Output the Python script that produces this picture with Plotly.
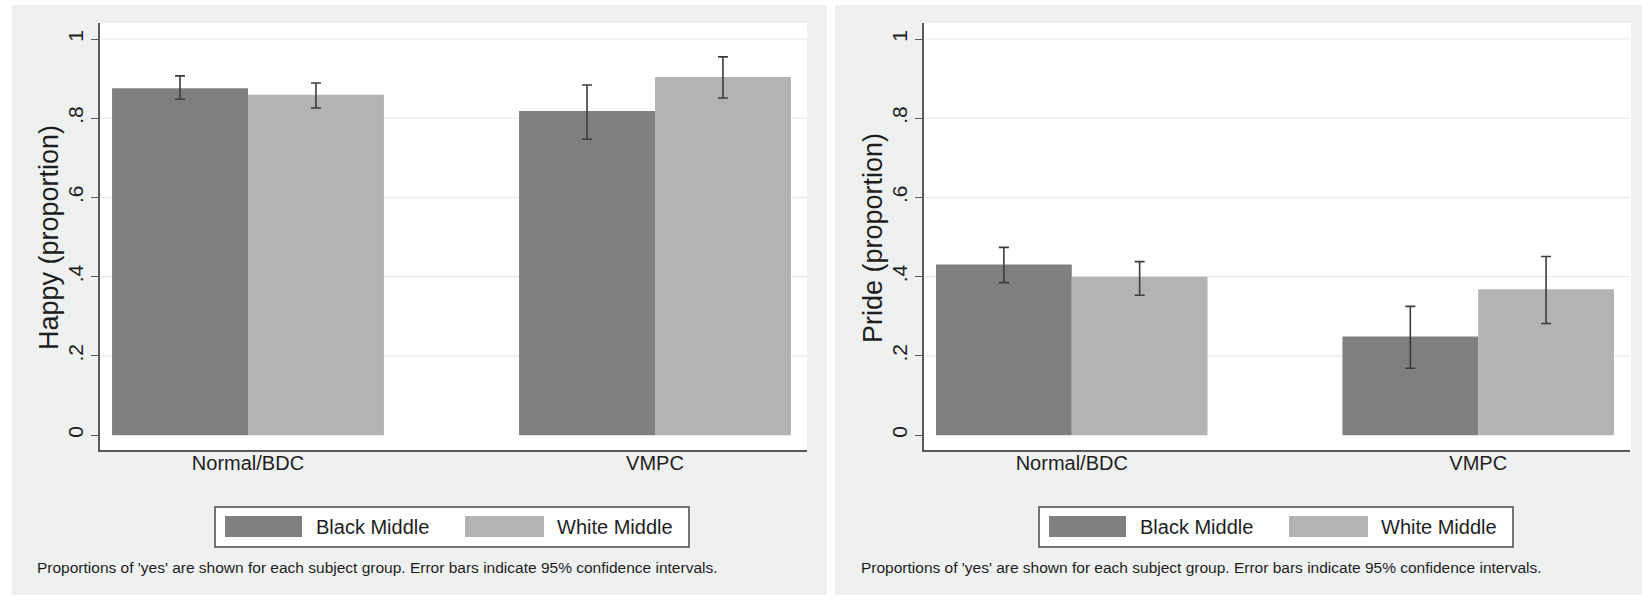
import plotly.graph_objects as go

W, H = 1642, 597

# ---- data -------------------------------------------------------------
groups = ["Normal/BDC", "VMPC"]
series = ["Black Middle", "White Middle"]
bar_colors = ["#7f7f7f", "#b3b3b3"]

happy_black = [0.876, 0.818]
happy_black_lo = [0.848, 0.747]
happy_black_hi = [0.907, 0.884]
happy_white = [0.859, 0.904]
happy_white_lo = [0.826, 0.851]
happy_white_hi = [0.889, 0.955]

pride_black = [0.431, 0.249]
pride_black_lo = [0.385, 0.169]
pride_black_hi = [0.474, 0.325]
pride_white = [0.400, 0.368]
pride_white_lo = [0.353, 0.282]
pride_white_hi = [0.438, 0.451]

y_ticks = [0, 0.2, 0.4, 0.6, 0.8, 1]
y_tick_labels = ["0", ".2", ".4", ".6", ".8", "1"]

note = ("Proportions of 'yes' are shown for each subject group. "
        "Error bars indicate 95% confidence intervals.")

FONT = "Liberation Sans, Arial, Helvetica, sans-serif"
TEXT = "#1e1e1e"
PANEL_BG = "#eff0f0"
AXIS = "#5a5a5a"


def px(x):
    return x / W


def py(y):
    return 1 - y / H


panels = [
    dict(title="Happy (proportion)", off=0, xa="x", ya="y",
         vals=[(happy_black, happy_black_lo, happy_black_hi),
               (happy_white, happy_white_lo, happy_white_hi)]),
    dict(title="Pride (proportion)", off=824, xa="x2", ya="y2",
         vals=[(pride_black, pride_black_lo, pride_black_hi),
               (pride_white, pride_white_lo, pride_white_hi)]),
]

fig = go.Figure()
shapes = []
annotations = []

for i, p in enumerate(panels):
    for s, (v, lo, hi) in enumerate(p["vals"]):
        fig.add_trace(go.Bar(
            x=groups, y=v, name=series[s],
            marker=dict(color=bar_colors[s], line=dict(width=0)),
            error_y=dict(type="data", symmetric=False,
                         array=[h - m for h, m in zip(hi, v)],
                         arrayminus=[m - l for m, l in zip(v, lo)],
                         color="#3c3c3c", thickness=1.6, width=5),
            xaxis=p["xa"], yaxis=p["ya"], showlegend=False,
            offsetgroup=str(s),
        ))

    o = p["off"]
    # grey panel and white plot region
    panel_x0 = 12 if i == 0 else 835
    panel_x1 = 827 if i == 0 else 1642
    shapes.append(dict(type="rect", xref="paper", yref="paper",
                       x0=px(panel_x0), x1=px(panel_x1), y0=py(595), y1=py(5),
                       fillcolor=PANEL_BG, line=dict(width=0), layer="below"))
    shapes.append(dict(type="rect", xref="paper", yref="paper",
                       x0=px(100 + o), x1=px(807 + o), y0=py(450), y1=py(23),
                       fillcolor="white", line=dict(width=0), layer="below"))
    # horizontal grid lines
    xd = "x domain" if i == 0 else "x2 domain"
    for t in y_ticks[1:]:
        shapes.append(dict(type="line", xref=xd, yref=p["ya"], x0=0, x1=1,
                           y0=t, y1=t, line=dict(color="#e9eaea", width=1.2),
                           layer="below"))

    # legend box
    shapes.append(dict(type="rect", xref="paper", yref="paper",
                       x0=px(215 + o), x1=px(689 + o), y0=py(547), y1=py(507),
                       fillcolor="white", line=dict(color="#4a4a4a", width=1.5)))
    for s, (sx0, sx1, tx) in enumerate([(225, 302, 314), (465, 544, 555)]):
        shapes.append(dict(type="rect", xref="paper", yref="paper",
                           x0=px(sx0 + o), x1=px(sx1 + o), y0=py(537), y1=py(516),
                           fillcolor=bar_colors[s], line=dict(width=0)))
        annotations.append(dict(text=series[s], xref="paper", yref="paper",
                                x=px(tx + o), y=py(527), xanchor="left",
                                yanchor="middle", showarrow=False,
                                font=dict(size=20, color=TEXT, family=FONT)))

    # y-axis title
    annotations.append(dict(text=p["title"], xref="paper", yref="paper",
                            x=px(49 + o), y=py(238), textangle=-90,
                            xanchor="center", yanchor="middle", showarrow=False,
                            font=dict(size=27, color=TEXT, family=FONT)))
    # footnote
    annotations.append(dict(text=note, xref="paper", yref="paper",
                            x=px(35 + o), y=py(567), xanchor="left",
                            yanchor="middle", showarrow=False,
                            font=dict(size=15.5, color=TEXT, family=FONT)))

xaxis_common = dict(
    type="category", range=[-0.3636, 1.3735], showline=True,
    linecolor=AXIS, linewidth=1.5, ticks="", showgrid=False, zeroline=False,
    ticklabelstandoff=-6,
    tickfont=dict(size=20, color=TEXT, family=FONT), fixedrange=True,
)
yaxis_common = dict(
    range=[-0.0375, 1.0404], tickvals=y_ticks, ticktext=y_tick_labels,
    tickangle=-90, ticks="outside", ticklen=7, tickwidth=1.2, tickcolor=AXIS,
    showline=True, linecolor=AXIS, linewidth=1.5, showgrid=False,
    zeroline=False, tickfont=dict(size=21, color=TEXT, family=FONT),
    fixedrange=True,
)

fig.update_layout(
    width=W, height=H,
    margin=dict(l=0, r=0, t=0, b=0),
    paper_bgcolor="white", plot_bgcolor="rgba(0,0,0,0)",
    barmode="group", bargap=0.332, bargroupgap=0,
    xaxis=dict(xaxis_common, domain=[px(100), px(807)], anchor="y"),
    yaxis=dict(yaxis_common, domain=[py(450), py(23)], anchor="x"),
    xaxis2=dict(xaxis_common, domain=[px(924), px(1630)], anchor="y2"),
    yaxis2=dict(yaxis_common, domain=[py(450), py(23)], anchor="x2"),
    shapes=shapes, annotations=annotations,
    font=dict(family=FONT, color=TEXT),
)

fig.write_html("out.html")
